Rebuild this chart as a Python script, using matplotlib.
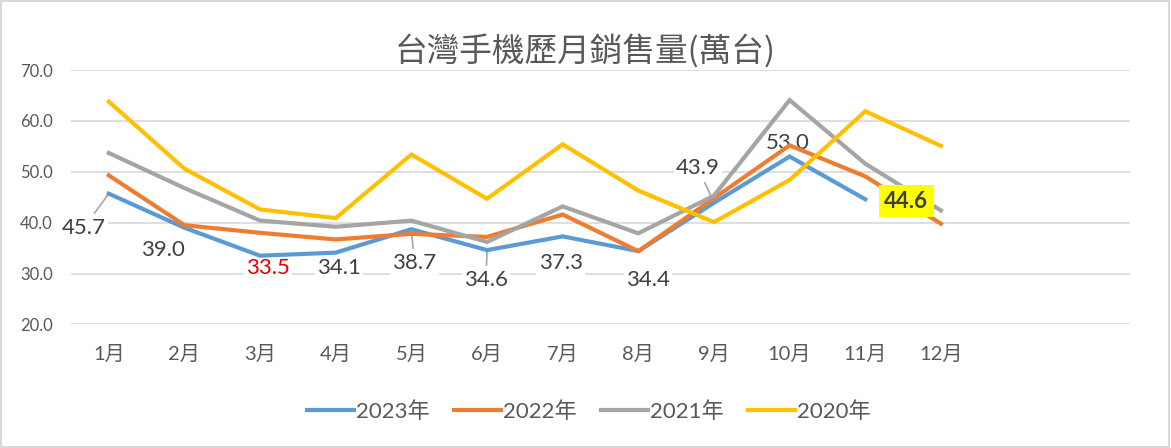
import matplotlib
matplotlib.use("Agg")
import matplotlib.pyplot as plt
from matplotlib.patches import Rectangle

plt.rcParams['font.family'] = ['Lato', 'Noto Sans CJK TC', 'DejaVu Sans']

# Data (萬台)
months = ["1月", "2月", "3月", "4月", "5月", "6月", "7月", "8月", "9月", "10月", "11月", "12月"]
sales_2023 = [45.7, 39.0, 33.5, 34.1, 38.7, 34.6, 37.3, 34.4, 43.9, 53.0, 44.6]
sales_2022 = [49.3, 39.5, 38.0, 36.7, 37.8, 37.2, 41.6, 34.4, 44.8, 55.2, 49.1, 39.8]
sales_2021 = [53.7, 46.8, 40.4, 39.2, 40.4, 36.2, 43.2, 37.9, 45.3, 64.1, 51.6, 42.4]
sales_2020 = [63.8, 50.6, 42.6, 40.9, 53.4, 44.7, 55.4, 46.3, 40.1, 48.4, 61.9, 55.1]
series_names = ["2023年", "2022年", "2021年", "2020年"]
colours = ["#5B9BD5", "#ED7D31", "#A5A5A5", "#FFC000"]

# label offsets (pixels) for the 2023 data labels, and which get a leader line
label_offsets = [(-25, -34), (-21, -22), (8, -12), (3, -15), (3, -34), (-1, -30),
                 (-2, -27), (10, -29), (-16, 35), (-2, 14), (41, -2)]
leaders = [0, 4, 5, 8]

fig = plt.figure(figsize=(11.71, 4.48), dpi=100)
ax = fig.add_axes([0.0606, 0.276, 0.9044, 0.5675])

all_series = [sales_2023, sales_2022, sales_2021, sales_2020]
for vals, name, col in zip(all_series, series_names, colours):
    ax.plot(range(len(vals)), vals, color=col, lw=3, label=name,
            solid_joinstyle='miter', zorder=3)

# data labels of 2023
for i, v in enumerate(sales_2023):
    dx, dy = label_offsets[i]
    colour = "#404040"
    weight = "normal"
    box = dict(boxstyle="square,pad=0.1", fc="white", ec="none")
    z = 2
    if i == 2:
        colour = "#E00000"
    if i == len(sales_2023) - 1:
        weight = "bold"
        box = dict(boxstyle="square,pad=0.25", fc="#FFFF00", ec="none")
        z = 5
    arrow = None
    if i in leaders:
        arrow = dict(arrowstyle="-", color="#A5A5A5", lw=1.2, shrinkA=2, shrinkB=0)
    ax.annotate("%.1f" % v, xy=(i, v), xytext=(dx, dy), textcoords="offset pixels",
                ha="center", va="center", fontsize=16, color=colour,
                fontweight=weight, bbox=box, arrowprops=arrow, zorder=z)

ax.set_xlim(-0.5, 13.5)
ax.set_ylim(20, 70)
ax.set_xticks(range(len(months)))
ax.set_xticklabels(months, fontsize=14.5, color="#595959")
ax.set_yticks(range(20, 71, 10))
ax.set_yticklabels(["%.1f" % t for t in range(20, 71, 10)], fontsize=12, color="#595959")
ax.tick_params(axis="both", length=0)
ax.tick_params(axis="y", pad=13)
ax.tick_params(axis="x", pad=15)
ax.grid(axis="y", color="#D9D9D9", lw=1.2)
ax.set_axisbelow(True)
for s in ax.spines.values():
    s.set_visible(False)

fig.suptitle("台灣手機歷月銷售量(萬台)", x=0.5, y=0.925, fontsize=23.5, color="#595959",
             family=['Noto Sans CJK TC', 'DejaVu Sans'])

fig.legend(loc="center", bbox_to_anchor=(0.503, 0.082), ncol=4, frameon=False,
           fontsize=16, handlelength=2.1, handletextpad=0.1, columnspacing=1.1,
           labelcolor="#595959")

# figure border
fig.patches.append(Rectangle((0.001, 0.002), 0.997, 0.995, transform=fig.transFigure,
                             fill=False, ec="#D9D9D9", lw=1.5))

fig.savefig("out.png", dpi=100)
